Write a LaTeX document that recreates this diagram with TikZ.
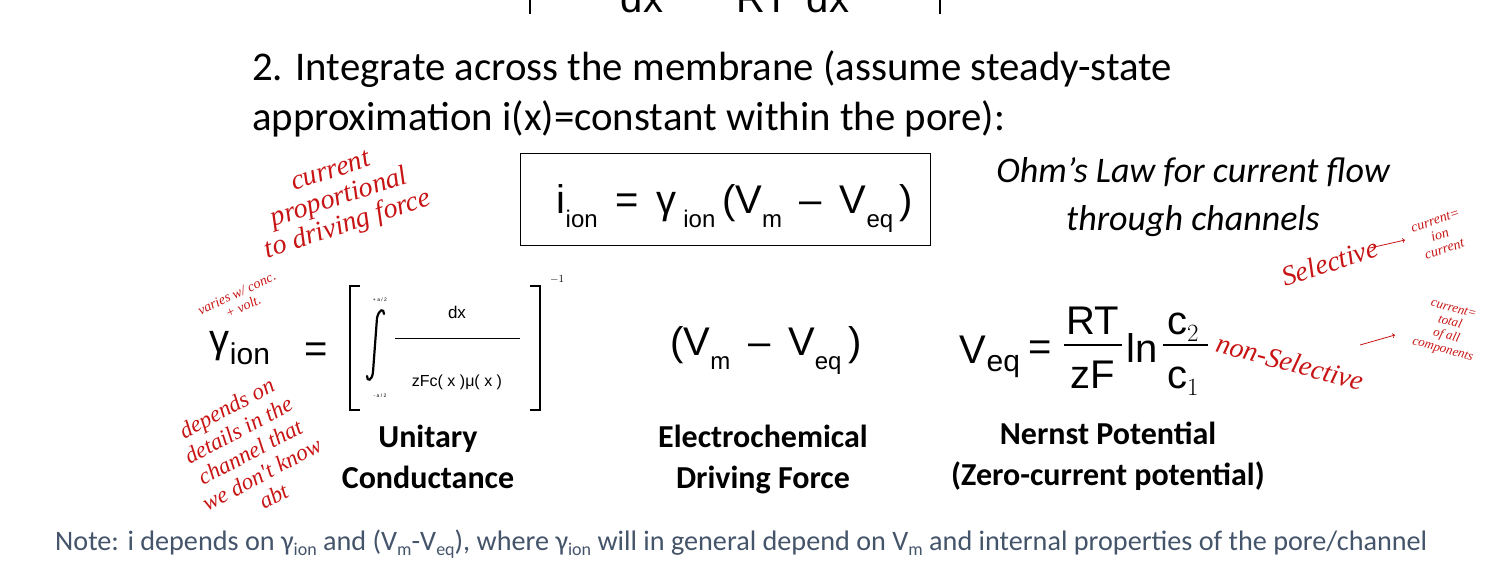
\documentclass[tikz,border=0pt]{standalone}
\usepackage{fontspec}
\setmainfont{Carlito}
\newfontfamily\arial{Liberation Sans}
\newfontfamily\hand{Liberation Serif}
\usetikzlibrary{calc}
\definecolor{notecol}{RGB}{68,84,106}
\definecolor{ink}{RGB}{200,20,20}
\newcommand{\lowsub}[1]{\raisebox{-14pt}{\arial\fontsize{24}{24}\selectfont #1}}
\newcommand{\tsub}[1]{\raisebox{-5pt}{\fontsize{18}{18}\selectfont #1}}
\tikzset{
  body/.style={anchor=base west,inner sep=0pt,font=\fontsize{40.8}{40}\selectfont},
  lab/.style={anchor=north,inner sep=0pt,align=center,font=\fontsize{32}{41}\selectfont\bfseries},
  eq/.style={inner sep=0pt,font=\arial\fontsize{40}{44}\selectfont},
  scrib/.style={inner sep=0pt,text=ink,font=\hand\itshape\fontsize{20}{20}\selectfont,align=center}
}
\begin{document}
\begin{tikzpicture}[x=1pt,y=-1pt]
\useasboundingbox (0,0) rectangle (1500,568);
\begin{scope}
\clip (0,0) rectangle (1500,568);
\node[eq,anchor=base] (top) at (735,12) {dx \quad\; RT\, dx};
\draw[line width=1.5pt] (540,-20) -- (530,-20) -- (530,14);
\draw[line width=1.5pt] (930,-20) -- (940,-20) -- (940,14);
\end{scope}
\node[body] (l1) at (252,80) {2. Integrate across the membrane (assume steady-state};
\node[body] (l2) at (252,130) {approximation i(x)=constant within the pore):};
\draw[line width=1pt] (520,153) rectangle (930,245);
\node[eq,anchor=base] (ohm) at (735,213) {i\lowsub{ion} \,=\, γ\lowsub{ ion}\,(V\lowsub{m} \,–\, V\lowsub{eq}\,)};
\node[anchor=north,inner sep=0pt,align=center,font=\fontsize{36}{48}\selectfont\itshape] (ol) at (1193,157) {Ohm's Law for current flow\\through channels};
% gamma
\node[eq,anchor=base] (g) at (240,352) {γ\raisebox{-12pt}{\fontsize{30}{30}\selectfont ion}};
\node[eq,anchor=base] (geq) at (316,362) {=};
\draw[line width=2pt] (360,286) -- (350,286) -- (350,410) -- (360,410);
\draw[line width=2pt] (530,286) -- (540,286) -- (540,410) -- (530,410);
\draw[line width=2.2pt,line cap=round] (384,314) .. controls (384,308) and (379,309) .. (377,318) -- (373,372) .. controls (372,381) and (367,382) .. (367,376);
\node[inner sep=0pt,font=\arial\fontsize{5}{5}\selectfont] at (380,300) {+ a / 2};
\node[inner sep=0pt,font=\arial\fontsize{5}{5}\selectfont] at (380,396) {- a / 2};
\draw[line width=1pt] (395,338) -- (520,338);
\node[inner sep=0pt,font=\arial\fontsize{17}{17}\selectfont] (dx) at (457,312) {dx};
\node[inner sep=0pt,font=\arial\fontsize{16}{16}\selectfont] (den) at (457,382) {zFc( x )μ( x )};
\node[inner sep=0pt,font=\fontsize{11}{11}\selectfont] at (557,279) {$-1$};
\node[eq,anchor=base] (df) at (766,355) {(V\lowsub{m} \,–\, V\lowsub{eq}\,)};
\node[eq,anchor=base] (veq) at (990,363) {V\raisebox{-8pt}{\fontsize{30}{30}\selectfont eq}};
\node[eq,anchor=base] at (1040,360) {=};
\draw[line width=1.2pt] (1064,345) -- (1122,345);
\node[eq,anchor=base] at (1093,334) {RT};
\node[eq,anchor=base] at (1093,388) {zF};
\node[eq,anchor=base] at (1142,362) {ln};
\draw[line width=1.2pt] (1163,345) -- (1208,345);
\node[eq,anchor=base] at (1183,334) {c$_2$};
\node[eq,anchor=base] at (1183,388) {c$_1$};
\node[lab] (u) at (428,425) {Unitary\\Conductance};
\node[lab] (e) at (763,425) {Electrochemical\\Driving Force};
\node[lab] (n) at (1108,422) {Nernst Potential\\(Zero-current potential)};
\node[anchor=base west,inner sep=0pt,text=notecol,font=\fontsize{28.2}{28}\selectfont] (note) at (55,550) {Note: i depends on γ\tsub{ion} and (V\tsub{m}-V\tsub{eq}), where γ\tsub{ion} will in general depend on V\tsub{m} and internal properties of the pore/channel};
% handwritten notes
\node[scrib,rotate=18,font=\hand\itshape\fontsize{28}{28}\selectfont] at (340,200) {current\\proportional\\to driving force};
\node[scrib,rotate=25,font=\hand\itshape\fontsize{14}{15}\selectfont] at (240,300) {varies w/ conc.\\+ volt.};
\node[scrib,rotate=28,font=\hand\itshape\fontsize{23}{25}\selectfont] at (250,452) {depends on\\details in the\\channel that\\we don't know\\abt};
\node[scrib,rotate=18,font=\hand\itshape\fontsize{28}{28}\selectfont] at (1330,262) {Selective};
\draw[ink,->,line width=0.8pt] (1370,248) -- (1405,240);
\node[scrib,rotate=18,font=\hand\itshape\fontsize{14}{15}\selectfont] at (1440,235) {current=\\ion\\current};
\node[scrib,rotate=-15,font=\hand\itshape\fontsize{28}{28}\selectfont] at (1290,362) {non-Selective};
\draw[ink,->,line width=0.8pt] (1360,345) -- (1395,335);
\node[scrib,rotate=-15,font=\hand\itshape\fontsize{13}{14}\selectfont] at (1448,330) {current=\\total\\of all\\components};
\end{tikzpicture}
\end{document}
